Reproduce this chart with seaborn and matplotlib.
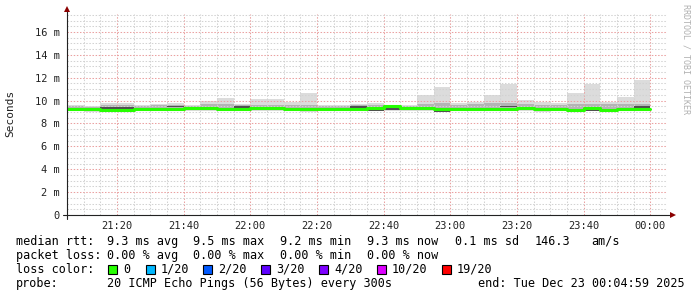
import numpy as np
import matplotlib
matplotlib.use("Agg")
import matplotlib.pyplot as plt
from matplotlib.ticker import MultipleLocator, FixedLocator
from matplotlib.patches import Rectangle
import seaborn as sns

# ---------------- data ----------------
step_minutes = 5          # one smoke column = 5 minutes, first starts 21:05
rtt_median = [9.29, 9.25, 9.20, 9.20, 9.27, 9.25, 9.30, 9.35, 9.33, 9.30,
              9.28, 9.33, 9.36, 9.24, 9.24, 9.26, 9.26, 9.28, 9.38, 9.50,
              9.32, 9.38, 9.29, 9.30, 9.26, 9.24, 9.30, 9.33, 9.24, 9.24,
              9.22, 9.33, 9.20, 9.24, 9.28]
rtt_min = [9.08, 8.97, 8.97, 8.97, 9.05, 9.05, 9.08, 9.10, 9.08, 9.08,
           9.08, 9.10, 9.12, 9.05, 8.97, 9.08, 9.08, 9.08, 9.10, 9.10,
           9.12, 9.08, 9.05, 9.10, 9.05, 9.05, 9.08, 9.10, 9.03, 9.05,
           9.05, 9.08, 9.05, 9.05, 9.10]
rtt_max = [9.62, 9.50, 9.82, 9.82, 9.60, 9.70, 9.82, 9.60, 10.00, 10.25,
           9.72, 10.10, 10.14, 9.90, 10.68, 9.60, 9.60, 9.73, 9.76, 9.64,
           9.60, 10.46, 11.16, 9.76, 9.88, 10.50, 11.45, 10.08, 9.85, 9.80,
           10.66, 11.42, 9.90, 10.30, 11.83]
rtt_hi = [9.50, 9.42, 9.60, 9.60, 9.50, 9.58, 9.60, 9.50, 9.70, 9.72,
          9.60, 9.65, 9.62, 9.60, 9.65, 9.50, 9.50, 9.60, 9.62, 9.58,
          9.52, 9.72, 9.75, 9.62, 9.70, 9.78, 9.78, 9.70, 9.65, 9.62,
          9.72, 9.72, 9.70, 9.72, 9.72]
rtt_lo = [9.15, 9.05, 9.08, 9.08, 9.12, 9.12, 9.15, 9.18, 9.15, 9.15,
          9.15, 9.18, 9.20, 9.12, 9.10, 9.15, 9.15, 9.15, 9.18, 9.20,
          9.18, 9.20, 9.15, 9.18, 9.15, 9.12, 9.18, 9.18, 9.12, 9.12,
          9.12, 9.16, 9.10, 9.12, 9.16]
rtt_mid = [9.15, 9.25, 9.33, 9.33, 9.27, 9.30, 9.47, 9.35, 9.22, 9.30,
           9.42, 9.35, 9.36, 9.24, 9.24, 9.26, 9.26, 9.45, 9.20, 9.29,
           9.32, 9.38, 9.10, 9.30, 9.26, 9.24, 9.50, 9.33, 9.24, 9.24,
           9.22, 9.20, 9.20, 9.24, 9.44]

x_tick_minutes = [15, 35, 55, 75, 95, 115, 135, 155, 175]
x_tick_labels = ["21:20", "21:40", "22:00", "22:20", "22:40",
                 "23:00", "23:20", "23:40", "00:00"]
y_tick_values = [0, 2, 4, 6, 8, 10, 12, 14, 16]
y_tick_labels = ["0", "2 m", "4 m", "6 m", "8 m", "10 m", "12 m", "14 m", "16 m"]

loss_labels = ["0", "1/20", "2/20", "3/20", "4/20", "10/20", "19/20"]
loss_colors = ["#26ff00", "#00b8ff", "#0059ff", "#5e00ff", "#7e00ff",
               "#dd00ff", "#ff0000"]

rtt_stats = ["9.3 ms avg", "9.5 ms max", "9.2 ms min", "9.3 ms now",
             "0.1 ms sd", "146.3", "am/s"]
loss_stats = ["0.00 % avg", "0.00 % max", "0.00 % min", "0.00 % now"]
probe_text = "20 ICMP Echo Pings (56 Bytes) every 300s"
end_text = "end: Tue Dec 23 00:04:59 2025"

# ---------------- figure ----------------
sns.set_theme(style="white")
MONO = ["DejaVu Sans Mono", "DejaVu Sans"]
plt.rcParams["font.family"] = MONO

W, H = 697, 297
fig = plt.figure(figsize=(W / 100, H / 100), dpi=100)
fig.patch.set_facecolor("white")
ax = fig.add_axes([67 / W, (H - 215) / H, 600 / W, 201 / H])
ax.set_facecolor("white")

n = len(rtt_median)
x = np.arange(n + 1) * step_minutes


def ext(a):
    a = np.asarray(a, dtype=float)
    return np.append(a, a[-1])


ax.fill_between(x, ext(rtt_min), ext(rtt_max), step="post",
                color="#dcdcdc", lw=0, zorder=1.0)
ax.fill_between(x, ext(rtt_lo), ext(rtt_hi), step="post",
                color="#b4b4b4", lw=0, zorder=1.1)
mid = ext(rtt_mid)
ax.fill_between(x, mid - 0.07, mid + 0.07, step="post",
                color="#505050", lw=0, zorder=1.8)

sns.lineplot(x=x, y=ext(rtt_median), ax=ax, drawstyle="steps-post",
             color=loss_colors[0], lw=2.2, estimator=None, errorbar=None,
             zorder=3)

ax.set_xlim(0, 180)
ax.set_ylim(0, 17.57)

ax.xaxis.set_major_locator(FixedLocator(x_tick_minutes))
ax.xaxis.set_minor_locator(MultipleLocator(5))
ax.set_xticklabels(x_tick_labels)
ax.yaxis.set_major_locator(FixedLocator(y_tick_values))
ax.yaxis.set_minor_locator(MultipleLocator(0.5))
ax.set_yticklabels(y_tick_labels)

ax.set_axisbelow("line")
ax.grid(which="minor", color="#d2d2d2", lw=0.75, ls=(0, (1.4, 1.6)))
ax.grid(which="major", color="#eaa0a0", lw=0.75, ls=(0, (1.4, 1.6)))

ax.tick_params(which="major", direction="inout", length=4, width=0.7,
               color="#333333", labelsize=7.5, labelcolor="#222222")
ax.tick_params(which="minor", direction="inout", length=2, width=0.6,
               color="#555555")
ax.tick_params(axis="y", which="major", pad=3)
ax.tick_params(axis="x", which="major", pad=2)
ax.set_xlabel("")
ax.set_ylabel("")

for s in ax.spines.values():
    s.set_visible(False)

# axis lines with arrows
ax.plot([0, 0], [-4 / 201, 1 + 4 / 201], transform=ax.transAxes,
        color="#222222", lw=0.8, clip_on=False, zorder=5)
ax.plot([-4 / 600, 1 + 4 / 600], [0, 0], transform=ax.transAxes,
        color="#222222", lw=0.8, clip_on=False, zorder=5)
ax.plot([0], [1 + 5 / 201], marker="^", ms=5, color="#8b0000",
        transform=ax.transAxes, clip_on=False, zorder=6, mew=0)
ax.plot([1 + 6 / 600], [0], marker=">", ms=5, color="#8b0000",
        transform=ax.transAxes, clip_on=False, zorder=6, mew=0)

# side texts
fig.text(10 / W, 1 - 113 / H, "Seconds", rotation=90, ha="center",
         va="center", fontsize=8, color="#222222")
fig.text(686 / W, 1 - 4 / H, "RRDTOOL / TOBI OETIKER", rotation=270,
         ha="center", va="top", fontsize=6, color="#b0b0b0")


def put(xp, yp, s, **kw):
    fig.text(xp / W, 1 - yp / H, s, fontsize=8.5, va="baseline",
             color="black", **kw)


rows = [245, 259, 273, 287]
stat_x = [107, 193, 280, 367, 455, 535, 591]

put(16, rows[0], "median rtt:")
for sx, s in zip(stat_x, rtt_stats):
    put(sx, rows[0], s)

put(16, rows[1], "packet loss:")
for sx, s in zip(stat_x, loss_stats):
    put(sx, rows[1], s)

put(16, rows[2], "loss color:")
sq_x = [108, 146, 203, 261, 319, 377, 442]
for sx, c, lab in zip(sq_x, loss_colors, loss_labels):
    fig.patches.append(Rectangle((sx / W, 1 - 273.5 / H), 8.5 / W, 9 / H,
                                 transform=fig.transFigure, facecolor=c,
                                 edgecolor="black", lw=0.8))
    put(sx + 15, rows[2], lab)

put(16, rows[3], "probe:")
put(107, rows[3], probe_text)
put(478, rows[3], end_text)

fig.savefig("out.png", dpi=100, facecolor="white")
